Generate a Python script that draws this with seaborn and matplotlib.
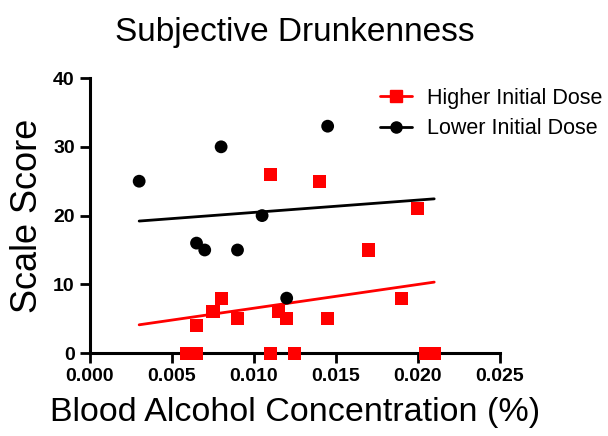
import numpy as np
import matplotlib
matplotlib.use('Agg')
import matplotlib.pyplot as plt
import seaborn as sns
from matplotlib.lines import Line2D

# Data
high_bac = [0.011, 0.014, 0.0065, 0.0075, 0.008, 0.009, 0.0115, 0.012, 0.0145,
            0.0059, 0.0065, 0.011, 0.0125, 0.017, 0.019, 0.020, 0.0205, 0.021]
high_score = [26, 25, 4, 6, 8, 5, 6, 5, 5,
              0, 0, 0, 0, 15, 8, 21, 0, 0]
low_bac = [0.003, 0.008, 0.0145, 0.0065, 0.007, 0.009, 0.0105, 0.012]
low_score = [25, 30, 33, 16, 15, 15, 20, 8]

groups = ['Higher Initial Dose', 'Lower Initial Dose']
colors = ['#ff0000', '#000000']
markers = ['s', 'o']

sns.set_style('ticks')
plt.rcParams['font.family'] = ['Liberation Sans', 'DejaVu Sans']
plt.rcParams['text.color'] = 'black'
plt.rcParams['axes.labelcolor'] = 'black'
plt.rcParams['xtick.color'] = 'black'
plt.rcParams['ytick.color'] = 'black'
plt.rcParams['axes.edgecolor'] = 'black'

fig = plt.figure(figsize=(6.08, 4.36), dpi=100)
ax = fig.add_axes([0.148, 0.19, 0.674, 0.631])

# fit lines over the full range of concentrations
x_all = np.array(high_bac + low_bac)
xs = np.array([x_all.min(), x_all.max()])
for bac, score, col in [(high_bac, high_score, colors[0]), (low_bac, low_score, colors[1])]:
    k, b = np.polyfit(bac, score, 1)
    ax.plot(xs, k * xs + b, color=col, lw=2, zorder=2)

sns.scatterplot(x=high_bac, y=high_score, marker='s', color=colors[0], s=90,
                edgecolor='none', ax=ax, clip_on=False, zorder=3)
sns.scatterplot(x=low_bac, y=low_score, marker='o', color=colors[1], s=85,
                edgecolor='none', ax=ax, clip_on=False, zorder=3)

ax.set_xlim(0, 0.025)
ax.set_ylim(0, 40)
ax.set_xticks([0.000, 0.005, 0.010, 0.015, 0.020, 0.025])
ax.set_xticklabels(['0.000', '0.005', '0.010', '0.015', '0.020', '0.025'])
ax.set_yticks([0, 10, 20, 30, 40])
for lab in ax.get_xticklabels() + ax.get_yticklabels():
    lab.set_fontweight('bold')
    lab.set_fontsize(14)
ax.tick_params(width=2, length=7, direction='out', pad=4)
sns.despine(ax=ax)
for sp in ['left', 'bottom']:
    ax.spines[sp].set_linewidth(2.2)

ax.set_xlabel('Blood Alcohol Concentration (%)', fontsize=24.5, labelpad=8)
ax.set_ylabel('Scale Score', fontsize=26, labelpad=6)
fig.suptitle('Subjective Drunkenness', fontsize=24, x=0.485, y=0.962)

handles = [Line2D([], [], color=c, marker=m, markersize=8, lw=2) for c, m in zip(colors, markers)]
ax.legend(handles, groups, loc='upper left', bbox_to_anchor=(0.66, 1.035), frameon=False,
          fontsize=15.5, handlelength=1.5, handletextpad=0.7, labelspacing=0.45)

fig.savefig('out.png', dpi=100)
